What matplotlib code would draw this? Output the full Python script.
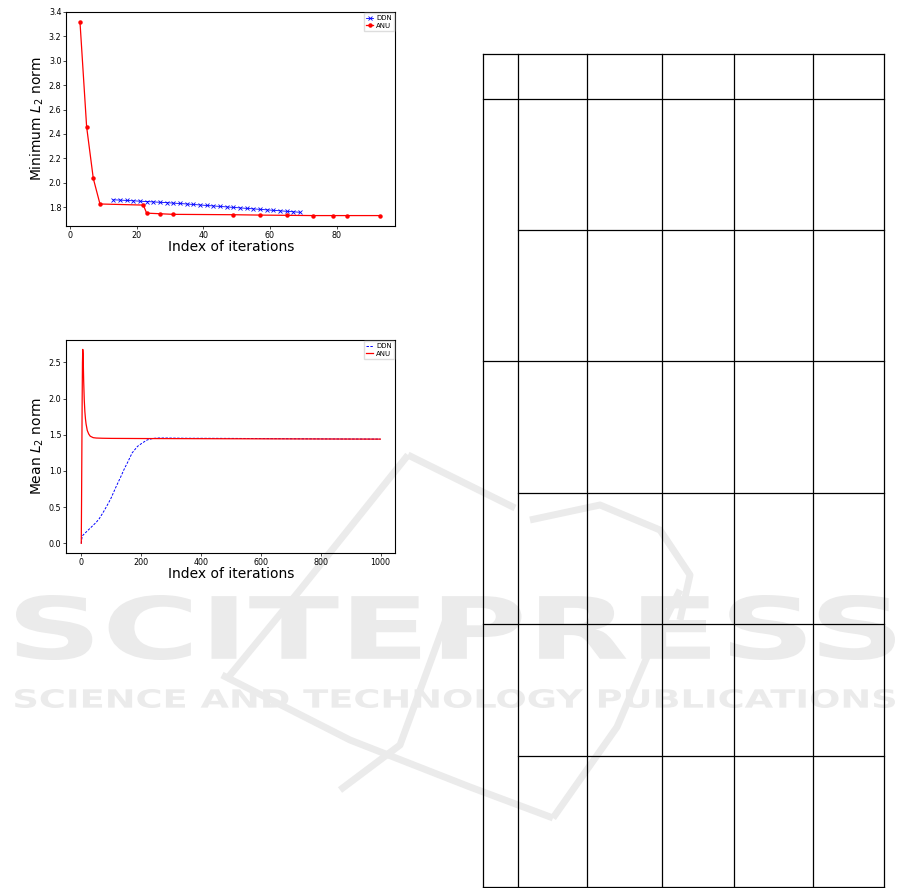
import matplotlib
matplotlib.use("Agg")
import matplotlib.pyplot as plt
from matplotlib.textpath import TextPath
from matplotlib.patches import PathPatch
from matplotlib.font_manager import FontProperties
from matplotlib.transforms import Affine2D

# ---------------- data ----------------
# Top panel: minimum L2 norm
ddn_min_iter = [13, 15, 17, 19, 21, 23, 25, 27, 29, 31, 33, 35, 37, 39, 41,
                43, 45, 47, 49, 51, 53, 55, 57, 59, 61, 63, 65, 67, 69]
ddn_min_val = [1.860, 1.858, 1.855, 1.852, 1.849, 1.846, 1.843, 1.840, 1.837,
               1.833, 1.830, 1.826, 1.822, 1.818, 1.814, 1.810, 1.806, 1.802,
               1.798, 1.794, 1.790, 1.786, 1.782, 1.778, 1.774, 1.770, 1.766,
               1.762, 1.758]
anu_min_iter = [3, 5, 7, 9, 22, 23, 27, 31, 49, 57, 65, 73, 79, 83, 93]
anu_min_val = [3.32, 2.458, 2.035, 1.826, 1.817, 1.751, 1.746, 1.741, 1.738,
               1.735, 1.733, 1.731, 1.731, 1.731, 1.731]

# Bottom panel: mean L2 norm
ddn_mean_iter = [0, 3, 10, 20, 35, 50, 60, 75, 90, 99, 115, 132, 145, 155, 170,
                 188, 205, 221, 240, 255, 280, 350, 500, 700, 850, 999]
ddn_mean_val = [0.0, 0.10, 0.13, 0.17, 0.23, 0.29, 0.34, 0.44, 0.55, 0.62, 0.77,
                0.92, 1.04, 1.12, 1.25, 1.34, 1.39, 1.43, 1.45, 1.455, 1.455,
                1.452, 1.45, 1.445, 1.442, 1.44]
anu_mean_iter = [0, 1, 2, 3, 4, 5, 6, 7, 8, 10, 12, 14, 16, 20, 25, 30, 40, 50,
                 70, 100, 200, 400, 600, 800, 999]
anu_mean_val = [0.0, 0.6, 1.3, 2.0, 2.5, 2.68, 2.62, 2.45, 2.25, 1.98, 1.82,
                1.72, 1.65, 1.56, 1.51, 1.48, 1.46, 1.455, 1.452, 1.45, 1.448,
                1.446, 1.444, 1.442, 1.44]

top_xticks = [0, 20, 40, 60, 80]
top_yticks = [1.8, 2.0, 2.2, 2.4, 2.6, 2.8, 3.0, 3.2, 3.4]
bot_xticks = [0, 200, 400, 600, 800, 1000]
bot_yticks = [0.0, 0.5, 1.0, 1.5, 2.0, 2.5]
series_labels = ["DDN", "ANU"]
x_label = "Index of iterations"
top_ylabel = "Minimum $L_2$ norm"
bot_ylabel = "Mean $L_2$ norm"

# table layout (empty grid), pixel positions
table_cols = [482.7, 517.7, 587.3, 662.3, 734.3, 812.7, 884.3]
table_rows = [54.3, 99.3, 230.3, 361.0, 493.0, 624.3, 756.0, 887.3]
table_full_rows = [0, 1, 3, 5, 7]

W, H = 901, 888
fig = plt.figure(figsize=(W / 100, H / 100), dpi=100)

# ---------------- background: watermark + table ----------------
bg = fig.add_axes([0, 0, 1, 1], zorder=0)
bg.set_xlim(0, W)
bg.set_ylim(H, 0)
bg.axis("off")

wm_color = "#ebebeb"


def box_text(ax, s, x0, x1, y0, y1, fp, color):
    tp = TextPath((0, 0), s, prop=fp)
    bb = tp.get_extents()
    tr = (Affine2D().translate(-bb.x0, -bb.y0)
          .scale((x1 - x0) / bb.width, -(y1 - y0) / bb.height)
          .translate(x0, y1))
    ax.add_patch(PathPatch(tr.transform_path(tp), fc=color, ec="none", zorder=1))


fp_bold = FontProperties(family="DejaVu Sans", weight="bold")
box_text(bg, "SCITEPRESS", 16, 895, 595, 660, fp_bold, wm_color)
box_text(bg, "SCIENCE AND TECHNOLOGY PUBLICATIONS", 15, 895, 689, 708,
         fp_bold, wm_color)

swoosh = [
    ([408, 300, 226], [455, 590, 680]),
    ([222, 350, 470, 553], [675, 740, 787, 818]),
    ([553, 617, 650, 680], [818, 727, 650, 590]),
    ([408, 515], [455, 508]),
    ([530, 600, 660, 690, 680], [520, 505, 530, 575, 620]),
    ([452, 400, 340], [603, 745, 790]),
]
for xs, ys in swoosh:
    bg.plot(xs, ys, color=wm_color, lw=5, solid_capstyle="butt",
            solid_joinstyle="round", zorder=1)

for i, y in enumerate(table_rows):
    x_start = table_cols[0] if i in table_full_rows else table_cols[1]
    bg.plot([x_start, table_cols[-1]], [y, y], color="black", lw=0.9, zorder=2)
for x in table_cols:
    bg.plot([x, x], [table_rows[0], table_rows[-1]], color="black", lw=0.9,
            zorder=2)

# ---------------- charts ----------------
tick_fs = 5.8
label_fs = 10


def style_axes(ax):
    ax.set_facecolor("none")
    for sp in ax.spines.values():
        sp.set_linewidth(0.8)
    ax.tick_params(labelsize=tick_fs, length=2, width=0.5, pad=1.5)


ax1 = fig.add_axes([66.3 / W, 1 - 225.7 / H, (395.3 - 66.3) / W,
                    (225.7 - 11.7) / H], zorder=3)
style_axes(ax1)
ax1.plot(ddn_min_iter, ddn_min_val, "-x", color="blue", lw=0.6, ms=2.6,
         mew=0.6, label=series_labels[0])
ax1.plot(anu_min_iter, anu_min_val, "-o", color="red", lw=0.9, ms=2.2,
         label=series_labels[1])
ax1.set_xlim(-1.1, 97.6)
ax1.set_ylim(1.648, 3.402)
ax1.set_xticks(top_xticks)
ax1.set_yticks(top_yticks)
ax1.set_xlabel(x_label, fontsize=label_fs, labelpad=0.5)
ax1.set_ylabel(top_ylabel, fontsize=label_fs, labelpad=2)
ax1.legend(loc="upper right", fontsize=5, handlelength=1.0, borderpad=0.3,
           labelspacing=0.2, handletextpad=0.4, borderaxespad=0.2,
           fancybox=False, framealpha=1, edgecolor="#dddddd")

ax2 = fig.add_axes([66.3 / W, 1 - 552.7 / H, (395.3 - 66.3) / W,
                    (552.7 - 340.0) / H], zorder=3)
style_axes(ax2)
ax2.plot(ddn_mean_iter, ddn_mean_val, color="blue", lw=0.7, dashes=(2.5, 1.5),
         label=series_labels[0])
ax2.plot(anu_mean_iter, anu_mean_val, color="red", lw=0.9,
         label=series_labels[1])
ax2.set_xlim(-50, 1049)
ax2.set_ylim(-0.13, 2.81)
ax2.set_xticks(bot_xticks)
ax2.set_yticks(bot_yticks)
ax2.set_xlabel(x_label, fontsize=label_fs, labelpad=0.5)
ax2.set_ylabel(bot_ylabel, fontsize=label_fs, labelpad=2)
ax2.legend(loc="upper right", fontsize=5, handlelength=1.0, borderpad=0.3,
           labelspacing=0.2, handletextpad=0.4, borderaxespad=0.2,
           fancybox=False, framealpha=1, edgecolor="#dddddd")

fig.savefig("out.png", dpi=100)
